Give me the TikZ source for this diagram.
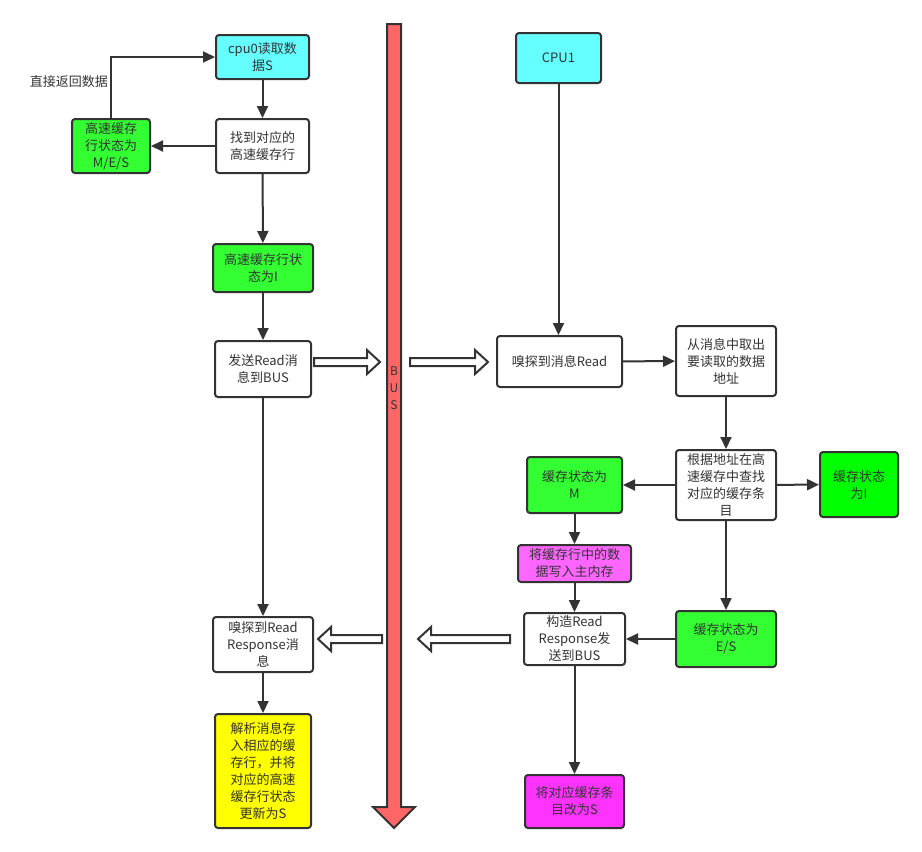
\documentclass[tikz,border=0pt]{standalone}
\usepackage{fontspec}
\setmainfont{Noto Sans CJK SC}
\usetikzlibrary{arrows.meta}
\definecolor{ink}{HTML}{333333}
\definecolor{cyanbox}{HTML}{66FFFF}
\definecolor{greenbox}{HTML}{33FF33}
\definecolor{limebox}{HTML}{00FF00}
\definecolor{pinkbox}{HTML}{FF66FF}
\definecolor{magbox}{HTML}{FF33FF}
\definecolor{yellowbox}{HTML}{FFFF00}
\definecolor{busred}{HTML}{FF6666}
\tikzset{
  box/.style={draw=ink, line width=2pt, rounded corners=3pt, align=center,
    text=ink, inner sep=1pt, font=\fontsize{13}{17}\selectfont},
  conn/.style={draw=ink, line width=2pt, -{Triangle[length=12pt,width=11pt]}},
  hollow/.style={draw=ink, line width=2pt, fill=white, line join=miter},
}
\newcommand\hollowarr[3]{% x tail, x tip, y
  \pgfmathsetmacro\hb{#2>#1 ? #2-13 : #2+13}
  \draw[hollow] (#1,#3-4) -- (\hb,#3-4) -- (\hb,#3-12) -- (#2,#3) -- (\hb,#3+12) -- (\hb,#3+4) -- (#1,#3+4) -- cycle;}
\begin{document}
\begin{tikzpicture}[x=1pt,y=-1pt]
\useasboundingbox (0,0) rectangle (922,852);
% BUS
\draw[draw=ink, line width=2pt, fill=busred, line join=miter]
  (387,24) -- (401,24) -- (401,807) -- (415,807) -- (394,828) -- (373,807) -- (387,807) -- cycle;
\node[text=ink, align=center, inner sep=0pt, font=\fontsize{12}{17}\selectfont] (buslabel) at (394,388) {B\\U\\S};

% left column
\node[box, fill=cyanbox, minimum width=93pt, minimum height=44pt] (cpu0) at (262.5,57) {cpu0读取数\\据S};
\node[box, fill=white, minimum width=93pt, minimum height=54pt] (findrow) at (262.5,146) {找到对应的\\高速缓存行};
\node[box, fill=greenbox, minimum width=78pt, minimum height=54pt] (mes) at (111,146) {高速缓存\\行状态为\\M/E/S};
\node[text=ink, inner sep=1pt, font=\fontsize{13}{17}\selectfont] (retlabel) at (69,82) {直接返回数据};
\node[box, fill=greenbox, minimum width=100pt, minimum height=48pt] (statei) at (263,268) {高速缓存行状\\态为I};
\node[box, fill=white, minimum width=96pt, minimum height=56pt] (sendread) at (263,369) {发送Read消\\息到BUS};
\node[box, fill=white, minimum width=100pt, minimum height=55pt] (sniffresp) at (263,644.5) {嗅探到Read\\Response消\\息};
\node[box, fill=yellowbox, minimum width=96pt, minimum height=114pt] (parse) at (263,771) {解析消息存\\入相应的缓\\存行，并将\\对应的高速\\缓存行状态\\更新为S};

% right column
\node[box, fill=cyanbox, minimum width=85pt, minimum height=50pt] (cpu1) at (558.5,58) {CPU1};
\node[box, fill=white, minimum width=125pt, minimum height=51pt] (sniffread) at (559.5,361.5) {嗅探到消息Read};
\node[box, fill=white, minimum width=100pt, minimum height=70pt] (fetch) at (726,361) {从消息中取出\\要读取的数据\\地址};
\node[box, fill=white, minimum width=100pt, minimum height=70pt] (lookup) at (726,485) {根据地址在高\\速缓存中查找\\对应的缓存条\\目};
\node[box, fill=greenbox, minimum width=95pt, minimum height=56pt] (statem) at (574.5,485) {缓存状态为\\M};
\node[box, fill=limebox, minimum width=78pt, minimum height=65pt] (statei2) at (859,484.5) {缓存状态\\为I};
\node[box, fill=pinkbox, minimum width=113pt, minimum height=37pt] (writemem) at (574.5,563.5) {将缓存行中的数\\据写入主内存};
\node[box, fill=greenbox, minimum width=100pt, minimum height=56pt] (statees) at (726,639) {缓存状态为\\E/S};
\node[box, fill=white, minimum width=101pt, minimum height=52pt] (construct) at (574.5,639) {构造Read\\Response发\\送到BUS};
\node[box, fill=magbox, minimum width=99pt, minimum height=53pt] (modifys) at (574.5,801.5) {将对应缓存条\\目改为S};

% connectors
\draw[conn] (cpu0) -- (findrow);
\draw[conn] (findrow) -- (mes);
\draw[conn] (mes.north) |- (cpu0.west);
\draw[conn] (findrow) -- (statei);
\draw[conn] (statei) -- (sendread);
\draw[conn] (sendread) -- (sniffresp);
\draw[conn] (sniffresp) -- (parse);
\draw[conn] (cpu1.south) -- (cpu1.south |- sniffread.north);
\draw[conn] (sniffread) -- (fetch);
\draw[conn] (fetch) -- (lookup);
\draw[conn] (lookup) -- (statem);
\draw[conn] (lookup) -- (statei2);
\draw[conn] (lookup) -- (statees);
\draw[conn] (statem) -- (writemem);
\draw[conn] (writemem) -- (construct);
\draw[conn] (statees) -- (construct);
\draw[conn] (construct) -- (modifys);

% hollow bus arrows
\hollowarr{314}{380}{362}
\hollowarr{410}{488}{362}
\hollowarr{510}{418}{639}
\hollowarr{382}{318}{639}
\end{tikzpicture}
\end{document}
